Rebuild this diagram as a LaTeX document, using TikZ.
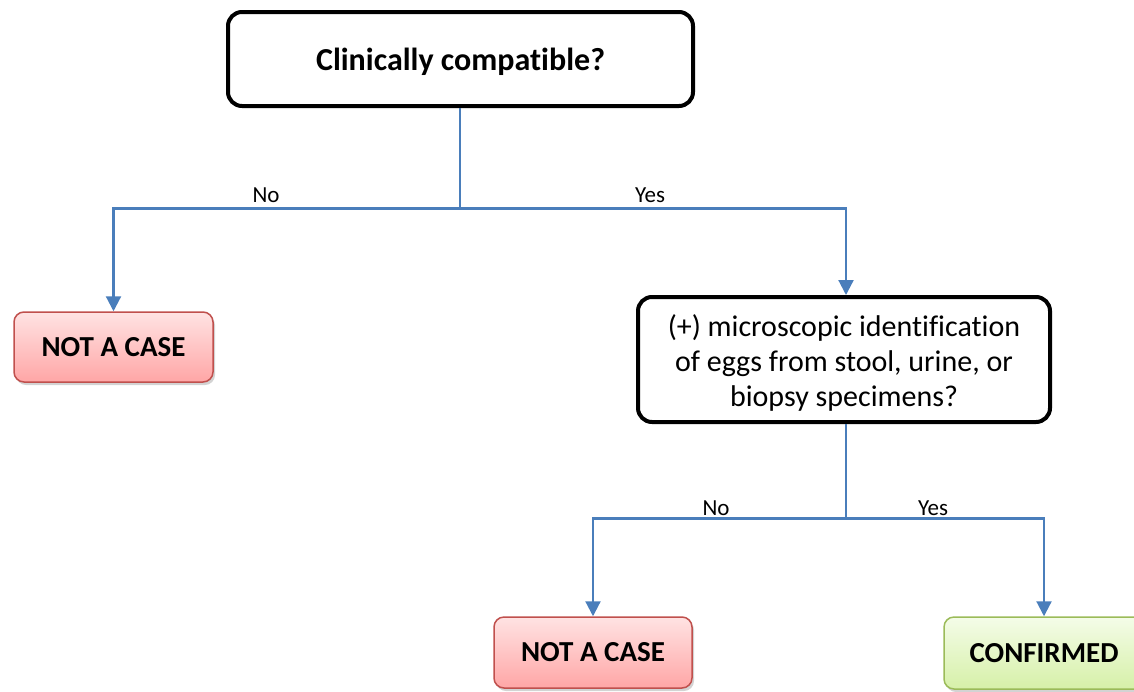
\documentclass[tikz,border=0pt]{standalone}
\usepackage{fontspec}
\setmainfont{Carlito}[Ligatures=CommonOff]
\usetikzlibrary{shadows,arrows.meta}
\definecolor{linkblue}{HTML}{4A7EBB}
\definecolor{redborder}{HTML}{C0504D}
\definecolor{redtop}{HTML}{FFE3E3}
\definecolor{redbot}{HTML}{FFA6A6}
\definecolor{greenborder}{HTML}{9BBB59}
\definecolor{greentop}{HTML}{F4FCE8}
\definecolor{greenbot}{HTML}{D6F0A8}
\tikzset{
  qbox/.style={draw=black, line width=4pt, rounded corners=14pt, fill=white, align=center, inner sep=0pt},
  nobox/.style={draw=redborder, line width=1.5pt, rounded corners=10pt, top color=redtop, bottom color=redbot,
    drop shadow={shadow xshift=2pt, shadow yshift=-3pt, opacity=0.35}, inner sep=0pt, font=\fontsize{29}{34}\selectfont\bfseries},
  okbox/.style={draw=greenborder, line width=1.5pt, rounded corners=10pt, top color=greentop, bottom color=greenbot,
    drop shadow={shadow xshift=2pt, shadow yshift=-3pt, opacity=0.35}, inner sep=0pt, font=\fontsize{29}{34}\selectfont\bfseries},
  conn/.style={draw=linkblue, line width=2.2pt},
  arr/.style={conn, -{Triangle[width=15pt,length=15pt]}},
  lbl/.style={font=\fontsize{23}{26}\selectfont, inner sep=0pt}
}
\begin{document}
\begin{tikzpicture}[x=1pt,y=-1pt]
\useasboundingbox (0,0) rectangle (1134,691);
% question boxes
\node[qbox, minimum width=465pt, minimum height=94pt, text depth=0pt, font=\fontsize{32}{36}\selectfont\bfseries] (q1) at (460.5,59) {Clinically compatible?};
\node[qbox, minimum width=412pt, minimum height=125pt, font=\fontsize{30}{35}\selectfont] (q2) at (844,359.5) {\rule{0pt}{29pt}(+) microscopic identification\\of eggs from stool, urine, or\\biopsy specimens?};
% result boxes
\node[nobox, minimum width=199pt, minimum height=70pt] (n1) at (113.5,347) {NOT A CASE};
\node[nobox, minimum width=198pt, minimum height=71pt] (n2) at (593,652.5) {NOT A CASE};
\node[okbox, minimum width=200pt, minimum height=72pt] (c1) at (1044,653) {CONFIRMED};
% junction coordinates
\coordinate (j1) at (460,208.5);
\coordinate (j2) at (846,518.5);
% connectors
\draw[conn] (q1.south -| j1) -- (j1);
\draw[arr] (j1) -| (n1.north);
\draw[arr] (j1) -| (q2.north -| j2);
\draw[conn] (q2.south -| j2) -- (j2);
\draw[arr] (j2) -| (n2.north);
\draw[arr] (j2) -| (c1.north);
% labels
\node[lbl] (l1) at (266,195) {No};
\node[lbl] (l2) at (650,195) {Yes};
\node[lbl] (l3) at (716,508) {No};
\node[lbl] (l4) at (933,508) {Yes};
\end{tikzpicture}
\end{document}
